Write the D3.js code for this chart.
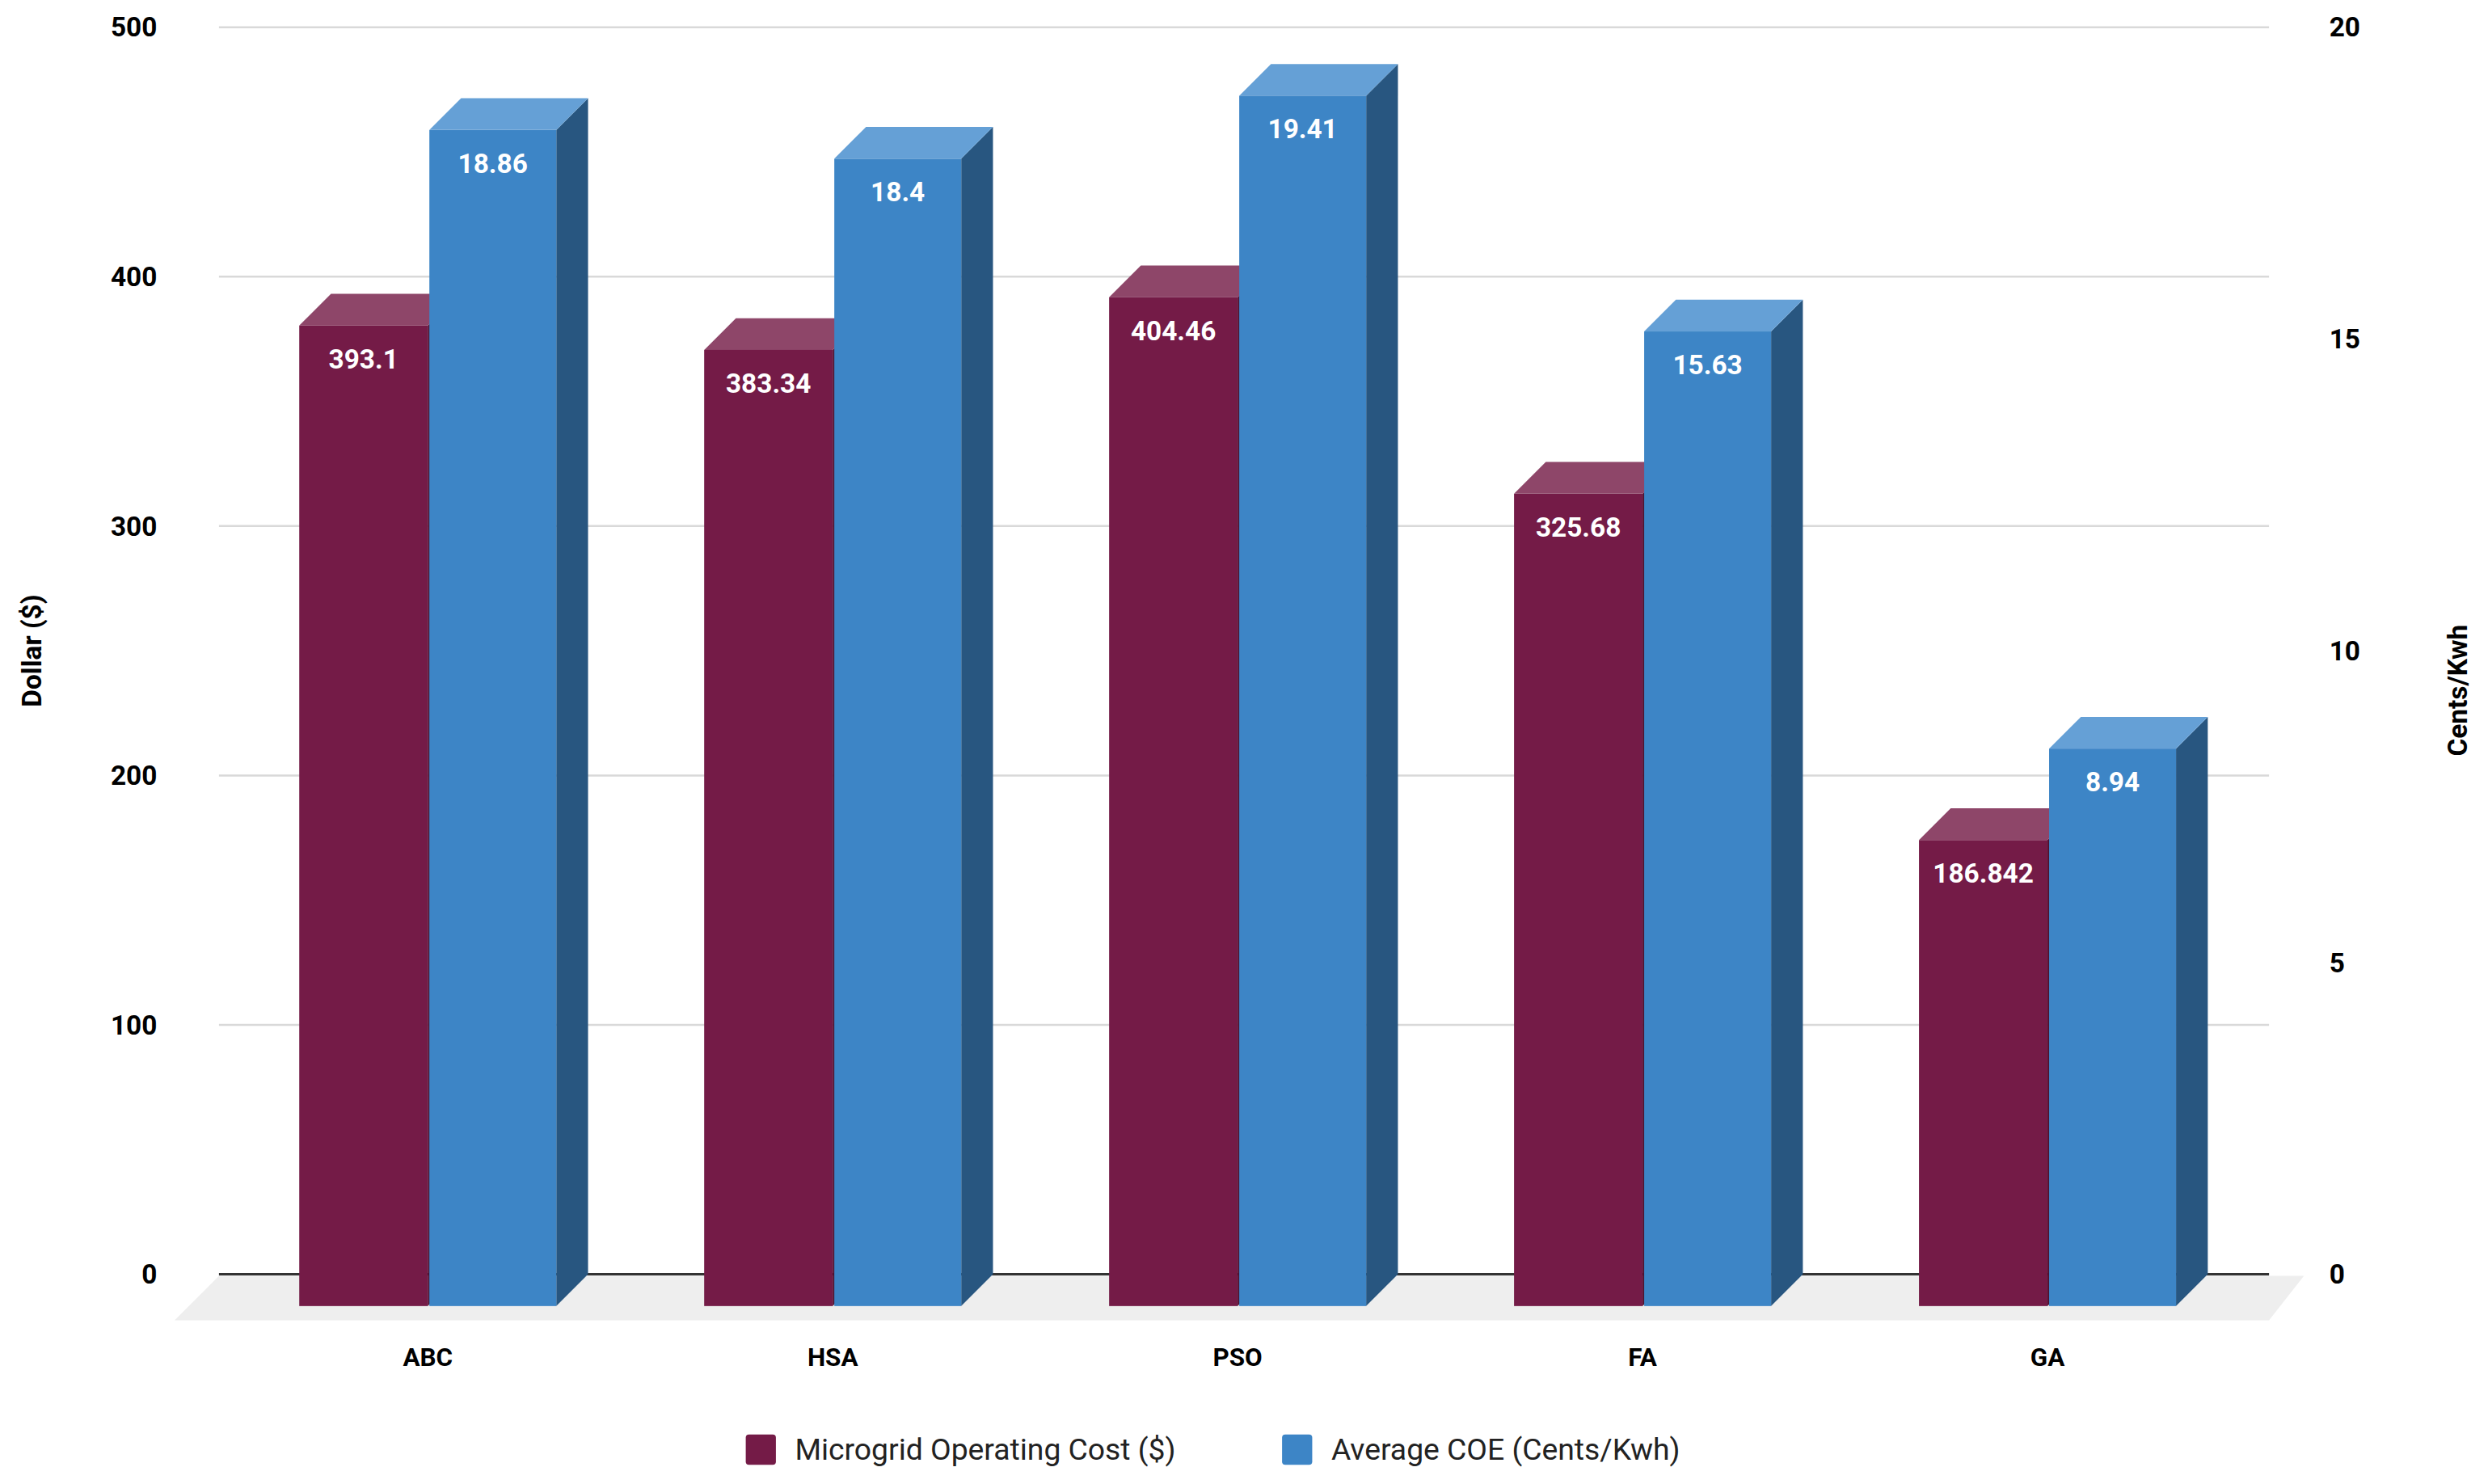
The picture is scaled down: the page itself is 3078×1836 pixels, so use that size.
<!DOCTYPE html>
<html lang="en">
<head>
<meta charset="UTF-8">
<script src="https://d3js.org/d3.v7.min.js"></script>
<style>body{margin:0;background:#fff;} text{font-family:Roboto,sans-serif;}</style>
</head>
<body>
<svg id="chart" width="3078" height="1836" viewBox="0 0 1568 935"></svg>
<script>
const categories = ["ABC", "HSA", "PSO", "FA", "GA"];
const costValues = [393.1, 383.34, 404.46, 325.68, 186.842];
const coeValues = [18.86, 18.4, 19.41, 15.63, 8.94];
const leftTicks = [0, 100, 200, 300, 400, 500];
const rightTicks = [0, 5, 10, 15, 20];
const seriesNames = ["Microgrid Operating Cost ($)", "Average COE (Cents/Kwh)"];

let svg = d3.select("#chart");
const depth = 20;
let yL = d3.scaleLinear().domain([0, 500]).range([803, 17]);
let yR = d3.scaleLinear().domain([0, 20]).range([803, 17]);
let x = d3.scaleBand().domain(categories).range([142, 1418]).padding(0);

// gridlines
leftTicks.forEach(t => {
    if (t === 0) return;
    svg.append("line").attr("x1", 138).attr("x2", 1430).attr("y1", yL(t)).attr("y2", yL(t))
        .attr("stroke", "#d9d9d9").attr("stroke-width", 1.3);
});
// floor
svg.append("polygon")
    .attr("points", "138,804 1452,804 1430,832 110,832")
    .attr("fill", "#eeeeee");
svg.append("line").attr("x1", 138).attr("x2", 1430).attr("y1", yL(0)).attr("y2", yL(0))
    .attr("stroke", "#333").attr("stroke-width", 1.5);

// tick labels
svg.append("g").selectAll("text").data(leftTicks).join("text")
    .attr("x", 99).attr("y", d => yL(d) + 6).attr("text-anchor", "end")
    .attr("font-size", 17).attr("font-weight", "bold").text(d => d);
svg.append("g").selectAll("text").data(rightTicks).join("text")
    .attr("x", 1468).attr("y", d => yR(d) + 6)
    .attr("font-size", 17).attr("font-weight", "bold").text(d => d);

svg.append("text").attr("transform", "translate(26,410) rotate(-90)").attr("text-anchor", "middle")
    .attr("font-size", 17).attr("font-weight", "bold").text("Dollar ($)");
svg.append("text").attr("transform", "translate(1555,435) rotate(-90)").attr("text-anchor", "middle")
    .attr("font-size", 17).attr("font-weight", "bold").text("Cents/Kwh");

function bar3d(x0, w, ytop, front, top, side, label) {
    let ybot = yL(0);
    // back plane at (x0, ytop); front shifted by (-depth, +depth)
    let fx = x0 - depth, fy = ytop + depth, fb = ybot + depth;
    svg.append("polygon").attr("fill", side)
        .attr("points", `${fx + w},${fy} ${x0 + w},${ytop} ${x0 + w},${ybot} ${fx + w},${fb}`);
    svg.append("polygon").attr("fill", top)
        .attr("points", `${fx},${fy} ${x0},${ytop} ${x0 + w},${ytop} ${fx + w},${fy}`);
    svg.append("rect").attr("x", fx).attr("y", fy).attr("width", w).attr("height", fb - fy).attr("fill", front);
    svg.append("text").attr("x", fx + w / 2).attr("y", fy + 27).attr("text-anchor", "middle")
        .attr("fill", "#fff").attr("font-size", 17).attr("font-weight", "bold").text(label);
}

categories.forEach((c, i) => {
    let cx = x(c) + x.bandwidth() / 2 + 20;
    bar3d(cx - 81, 81, yL(costValues[i]), "#741b47", "#8e4669", "#4e1030", costValues[i]);
    bar3d(cx + 1, 80, yR(coeValues[i]), "#3d85c6", "#65a0d6", "#285680", coeValues[i]);
    svg.append("text").attr("x", cx - 20).attr("y", 861).attr("text-anchor", "middle")
        .attr("font-size", 16).attr("font-weight", "bold").text(c);
});

// legend
const legendColors = ["#741b47", "#3d85c6"];
const legendX = [470, 808];
seriesNames.forEach((s, i) => {
    svg.append("rect").attr("x", legendX[i]).attr("y", 904).attr("width", 19).attr("height", 19)
        .attr("rx", 2).attr("fill", legendColors[i]);
    svg.append("text").attr("x", legendX[i] + 31).attr("y", 920).attr("font-size", 19)
        .attr("fill", "#222").text(s);
});
</script>
</body>
</html>
